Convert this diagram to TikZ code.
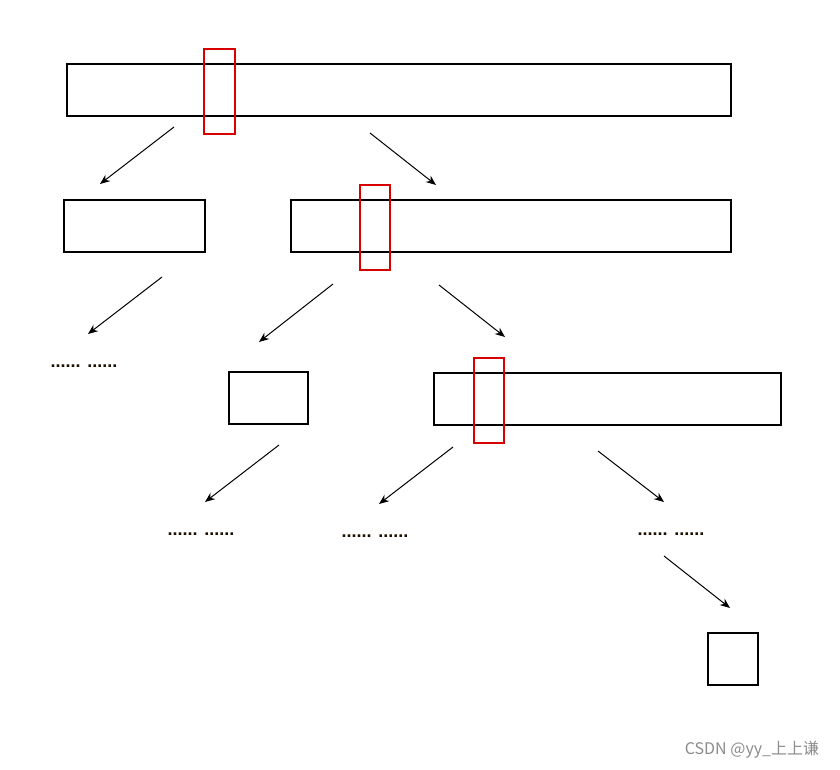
\documentclass[tikz,border=0pt]{standalone}
\usetikzlibrary{arrows.meta}
\usepackage{fontspec}
\setmainfont{Liberation Sans}
\newfontfamily\cjk{Noto Sans CJK SC}
\begin{document}
\begin{tikzpicture}[x=1pt,y=-1pt,
  blk/.style={draw=black,line width=2.6pt},
  redb/.style={draw=red!85!black,line width=2.4pt},
  arr/.style={-{Stealth[length=10pt,width=8pt]},line width=1pt},
  dots/.style={text=black!70!orange!40!black,font=\bfseries\fontsize{18}{20}\selectfont}]
\useasboundingbox[fill=white] (0,0) rectangle (840,769);
\draw[blk] (67,64) rectangle (731,116);
\draw[blk] (64,200) rectangle (205,252);
\draw[blk] (291,200) rectangle (731,252);
\draw[blk] (229,372) rectangle (308,424);
\draw[blk] (434,373) rectangle (781,425);
\draw[blk] (708,633) rectangle (758,685);
\draw[redb] (204,49) rectangle (235,134);
\draw[redb] (360,185) rectangle (390,270);
\draw[redb] (474,358) rectangle (504,443);
\foreach \a/\b/\c/\d in {174/127/100/184, 370/133/436/185, 162/277/88/334, 333/284/259/342, 439/285/505/337, 279/445/205/502, 453/447/379/504, 598/451/664/502, 664/556/730/608}
  {\coordinate (s) at (\a,\b); \coordinate (e) at (\c,\d); \draw[arr] (s) -- (e);}
\node[dots] (d1) at (84,366) {...... ......};
\node[dots] (d2) at (201,534) {...... ......};
\node[dots] (d3) at (375,536) {...... ......};
\node[dots] (d4) at (671,534) {...... ......};
\node[text=black!45,font=\cjk\fontsize{16}{18}\selectfont] (wm) at (752,750) {CSDN @yy\_上上谦};
\end{tikzpicture}
\end{document}
